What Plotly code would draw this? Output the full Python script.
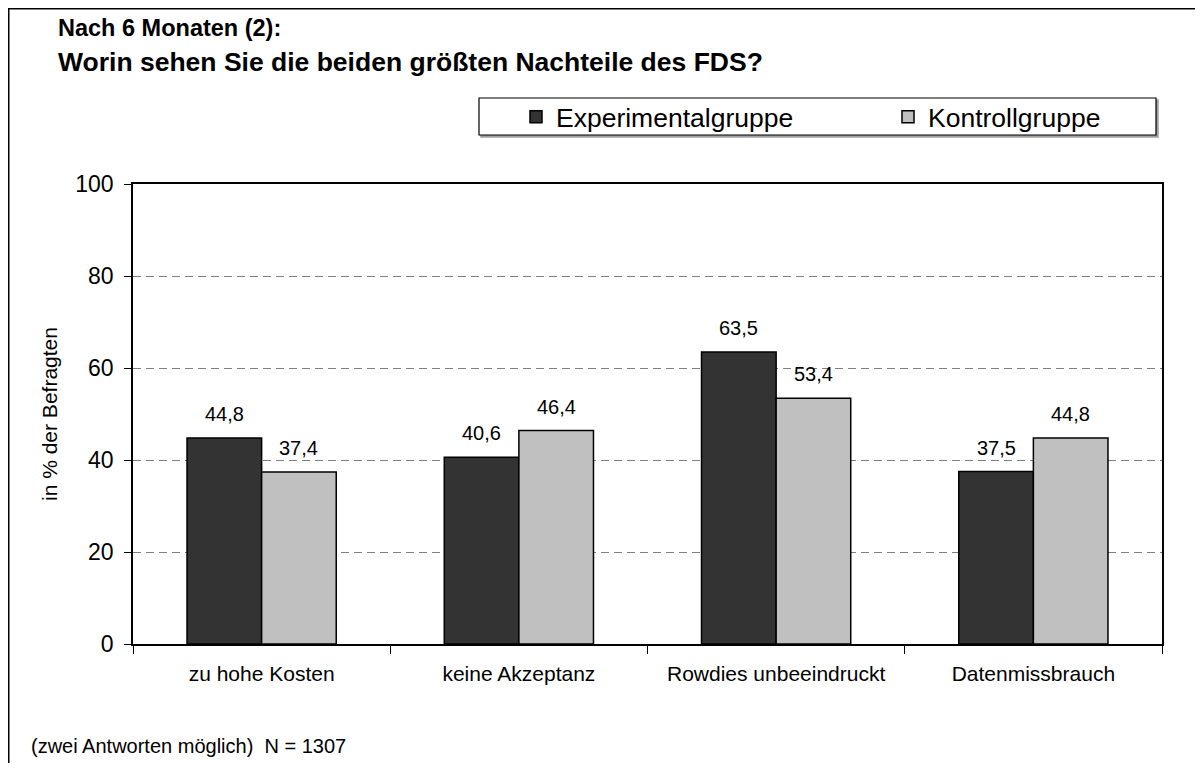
import plotly.graph_objects as go

# data
categories = ['zu hohe Kosten', 'keine Akzeptanz', 'Rowdies unbeeindruckt', 'Datenmissbrauch']
experimental = [44.8, 40.6, 63.5, 37.5]
kontroll = [37.4, 46.4, 53.4, 44.8]
series_names = ['Experimentalgruppe', 'Kontrollgruppe']
y_ticks = [0, 20, 40, 60, 80, 100]

title_lines = ['Nach 6 Monaten (2):', 'Worin sehen Sie die beiden größten Nachteile des FDS?']
y_title = 'in % der Befragten'
footnote = '(zwei Antworten möglich)  N = 1307'

# the page body adds an 8px margin, so the figure is drawn a bit smaller
# and all positions below are given in screen pixels
OFF = 8
W, H = 1203 - 2 * OFF, 771 - 2 * OFF
# plot area (screen pixels)
L, R, T, B = 133, 1162, 184, 644
FONT = 'Liberation Sans, Arial, sans-serif'


def px(x):
    return (x - L) / (R - L)


def py(y):
    return (B - y) / (B - T)


def de(v):
    return f'{v:.1f}'.replace('.', ',')


fig = go.Figure()
fig.add_trace(go.Bar(
    x=categories, y=experimental, name=series_names[0],
    marker=dict(color='#333333', line=dict(color='black', width=1.5)),
))
fig.add_trace(go.Bar(
    x=categories, y=kontroll, name=series_names[1],
    marker=dict(color='#C0C0C0', line=dict(color='black', width=1.5)),
))

annotations = []
# value labels above bars
for vals, shift in ((experimental, -37.3), (kontroll, 37.3)):
    for c, v in zip(categories, vals):
        annotations.append(dict(
            x=c, y=v, xref='x', yref='y', text=de(v), showarrow=False,
            xshift=shift, yshift=11, yanchor='bottom',
            font=dict(size=20, color='black', family=FONT),
        ))

# title: two lines, second one larger
for line, cy, size in zip(title_lines, (28, 62), (23.5, 26.5)):
    annotations.append(dict(
        x=px(56), y=py(cy), xref='paper', yref='paper', xanchor='left', yanchor='middle',
        showarrow=False, text='<b>' + line + '</b>',
        font=dict(size=size, color='black', family=FONT),
    ))
annotations.append(dict(
    x=px(49), y=py(414), xref='paper', yref='paper', textangle=-90,
    xanchor='center', yanchor='middle',
    showarrow=False, text=y_title, font=dict(size=21, color='black', family=FONT),
))
annotations.append(dict(
    x=px(29), y=py(746), xref='paper', yref='paper', xanchor='left', yanchor='middle',
    showarrow=False, text=footnote, font=dict(size=20, color='black', family=FONT),
))

right_edge = W + OFF
bottom_edge = H + OFF
shapes = [
    # outer frame (only left and top edges are inside the picture)
    dict(type='line', xref='paper', yref='paper',
         x0=px(OFF + 0.75), x1=px(OFF + 0.75), y0=py(bottom_edge), y1=py(OFF),
         line=dict(color='black', width=1.5)),
    dict(type='line', xref='paper', yref='paper',
         x0=px(OFF), x1=px(right_edge), y0=py(OFF + 0.75), y1=py(OFF + 0.75),
         line=dict(color='black', width=1.5)),
    # legend shadow and frame
    dict(type='rect', xref='paper', yref='paper',
         x0=px(481), x1=px(1158), y0=py(137), y1=py(100),
         line=dict(color='#a0a0a0', width=1.5), fillcolor='#a0a0a0', layer='below'),
    dict(type='rect', xref='paper', yref='paper',
         x0=px(479), x1=px(1156), y0=py(135), y1=py(98),
         line=dict(color='black', width=1.2), fillcolor='white', layer='below'),
]

fig.update_layout(
    width=W, height=H,
    margin=dict(l=L - OFF, r=W + OFF - R, t=T - OFF, b=H + OFF - B, pad=0, autoexpand=False),
    paper_bgcolor='white', plot_bgcolor='white',
    font=dict(family=FONT, color='black'),
    barmode='group', bargap=0.42, bargroupgap=0,
    showlegend=True,
    legend=dict(
        orientation='h', xref='container', yref='container',
        x=(516 - OFF) / W, y=1 - (117 - OFF) / H, xanchor='left', yanchor='middle',
        bgcolor='rgba(0,0,0,0)', borderwidth=0,
        font=dict(size=26.5, family=FONT, color='black'),
        entrywidth=327, entrywidthmode='pixels',
    ),
    annotations=annotations,
    shapes=shapes,
)

fig.update_xaxes(
    showline=True, linecolor='black', linewidth=1.5, mirror=True,
    ticks='outside', tickson='boundaries', ticklen=8, tickcolor='black', tickwidth=1,
    tickfont=dict(size=21, family=FONT, color='black'), ticklabelstandoff=10,
    tickangle=0, automargin=False, showgrid=False,
)
fig.update_yaxes(
    range=[0, 100], tickvals=y_ticks,
    showline=True, linecolor='black', linewidth=1.5, mirror=True,
    ticks='outside', ticklen=7, tickcolor='black', tickwidth=1,
    tickfont=dict(size=23, family=FONT, color='black'), ticklabelstandoff=6,
    automargin=False,
    showgrid=True, gridcolor='#7f7f7f', gridwidth=1, griddash='8px,5px',
    zeroline=False,
)

fig.write_html('out.html')
